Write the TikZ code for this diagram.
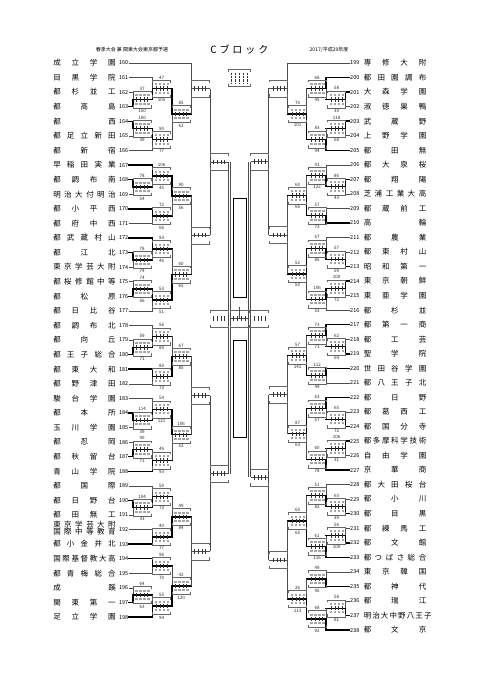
\documentclass[tikz,border=0pt]{standalone}
\usepackage{fontspec}
\setmainfont{Noto Sans CJK JP}
\usetikzlibrary{calc}

\tikzset{
  ln/.style={line width=0.45pt, black!70},
  bold/.style={line width=1.4pt, black, line cap=rect},
  hW/.style={bold}, vW/.style={bold},
  hP/.style={bold}, vP/.style={ln},
  hN/.style={ln},   vN/.style={ln},
  bx/.style={line width=0.4pt, black!60},
  tk/.style={line width=0.4pt, black!80},
  dig/.style={black!35},
  score/.style={font=\fontsize{4.5}{5}\selectfont, inner sep=0pt, black!85},
  num/.style={font=\fontsize{5.5}{6}\selectfont, inner sep=0pt},
  tname/.style={font=\fontsize{7.5}{9}\selectfont, inner sep=0pt},
  hdr/.style={font=\fontsize{5}{6}\selectfont, inner sep=0pt},
}

\newcommand{\spread}[1]{\makebox[62.5pt][s]{#1}}
\newcommand{\twol}{\begin{tabular}{@{}c@{}}\spread{東 京 学 芸 大 附}\\[-2pt]\spread{国 際 中 等 教 育}\end{tabular}}

% top and bottom bracket of a score box, #1 = left middle, #2 = width
\newcommand{\gframe}[2]{%
  \draw[bx] ($(#1)+(0,-6)$) -- ++(0,-2.5) -- ++(#2,0) -- ++(0,2.5);
  \draw[bx] ($(#1)+(0,6)$) -- ++(0,2.5) -- ++(#2,0) -- ++(0,-2.5);
}

% score box: #1 left middle, #2 top score, #3 bottom score, #4 name
\newcommand{\gbox}[4]{%
  \gframe{#1}{18}
  \ifx\relax#2\relax
    \draw[ln] (#1) -- ++(18,0);
  \else
    \foreach \k in {0,...,3}{
      \fill[dig] ($(#1)+(2.3+4*\k,-5.2)$) rectangle ++(2.2,2);
      \fill[dig] ($(#1)+(2.3+4*\k,3.2)$) rectangle ++(2.2,2);
    }
    \draw[bold] (#1) -- ++(18,0);
    \node[score] (#4t) at ($(#1)+(9,-11)$) {#2};
    \node[score] (#4b) at ($(#1)+(9,11.5)$) {#3};
  \fi
  \foreach \k in {1,...,4} \draw[tk] ($(#1)+(3.6*\k,-2.2)$) -- ++(0,4.4);
}

% game: name, column, top, bottom, top kind, bottom kind, top score, bottom score
\newcommand{\gameL}[8]{%
  \coordinate (#1c) at ($(#3)!0.5!(#4)$);
  \coordinate (#1) at (#1c -| #2);
  \coordinate (#1o) at ($(#1)+(18,0)$);
  \draw[h#5] (#3) -- (#3 -| #1);
  \draw[h#6] (#4) -- (#4 -| #1);
  \draw[v#5] (#3 -| #1) -- (#1);
  \draw[v#6] (#4 -| #1) -- (#1);
  \gbox{#1}{#7}{#8}{#1}
}
\newcommand{\gameR}[8]{%
  \coordinate (#1c) at ($(#3)!0.5!(#4)$);
  \coordinate (#1) at (#1c -| #2);
  \coordinate (#1o) at ($(#1)+(-18,0)$);
  \draw[h#5] (#3) -- (#3 -| #1);
  \draw[h#6] (#4) -- (#4 -| #1);
  \draw[v#5] (#3 -| #1) -- (#1);
  \draw[v#6] (#4 -| #1) -- (#1);
  \gbox{#1o}{#7}{#8}{#1}
}

\begin{document}
\begin{tikzpicture}[x=1pt,y=-1pt]
\useasboundingbox (0,0) rectangle (481,680);

% header
\node[hdr] (ttl) at (132,50) {春季大会 兼 関東大会東京都予選};
\node[font=\fontsize{10}{12}\selectfont, inner sep=0pt] (blk) at (239.25,50) {\makebox[58pt][s]{C ブ ロ ッ ク}};
\node[hdr] (yr) at (329,50) {2017/平成29年度};

% columns
\coordinate (cL1) at (133,0);   \coordinate (cR1) at (345.5,0);
\coordinate (cL2) at (152.5,0); \coordinate (cR2) at (326,0);
\coordinate (cL3) at (172,0);   \coordinate (cR3) at (306.5,0);
\coordinate (cL4) at (191,0);   \coordinate (cR4) at (287.5,0);
\coordinate (cL5) at (210,0);   \coordinate (cR5) at (268.5,0);

% teams, left
\foreach \n/\nm [count=\i from 0] in {160/{成 立 学 園},161/{目 黒 学 院},162/{都 杉 並 工},
  163/{都 高 島},164/{都 西},165/{都 足 立 新 田},166/{都 新 宿},167/{早 稲 田 実 業},
  168/{都 調 布 南},169/{明 治 大 付 明 治},170/{都 小 平 西},171/{都 府 中 西},
  172/{都 武 蔵 村 山},173/{都 江 北},174/{東 京 学 芸 大 附},175/{都 桜 修 館 中 等},
  176/{都 松 原},177/{都 日 比 谷},178/{都 調 布 北},179/{都 向 丘},180/{都 王 子 総 合},
  181/{都 東 大 和},182/{都 野 津 田},183/{駿 台 学 園},184/{都 本 所},185/{玉 川 学 園},
  186/{都 忍 岡},187/{都 秋 留 台},188/{青 山 学 院},189/{都 国 際},190/{都 日 野 台},
  191/{都 田 無 工},192/{\twol},193/{都 小 金 井 北},194/{国 際 基 督 教 大 高},
  195/{都 青 梅 総 合},196/{成 蹊},197/{関 東 第 一},198/{足 立 学 園}}{
  \coordinate (L\n) at (129,63+14.58*\i);
  \node[num,anchor=east] (nL\n) at (128.5,63+14.58*\i) {\n};
  \node[tname] (tL\n) at (84.5,63+14.58*\i) {\spread{\nm}};
}

% teams, right
\foreach \n/\nm [count=\i from 0] in {199/{専 修 大 附},200/{都 田 園 調 布},201/{大 森 学 園},
  202/{淑 徳 巣 鴨},203/{武 蔵 野},204/{上 野 学 園},205/{都 田 無},206/{都 大 泉 桜},
  207/{都 翔 陽},208/{芝 浦 工 業 大 高},209/{都 蔵 前 工},210/{高 輪},211/{都 農 業},
  212/{都 東 村 山},213/{昭 和 第 一},214/{東 京 朝 鮮},215/{東 亜 学 園},216/{都 杉 並},
  217/{都 第 一 商},218/{都 工 芸},219/{聖 学 院},220/{世 田 谷 学 園},221/{都 八 王 子 北},
  222/{都 日 野},223/{都 葛 西 工},224/{都 国 分 寺},225/{都 多 摩 科 学 技 術},
  226/{自 由 学 園},227/{京 華 商},228/{都 大 田 桜 台},229/{都 小 川},230/{都 目 黒},
  231/{都 練 馬 工},232/{都 文 館},233/{都 つ ば さ 総 合},234/{東 京 韓 国},235/{都 神 代},
  236/{都 瑞 江},237/{明 治 大 中 野 八 王 子},238/{都 文 京}}{
  \coordinate (R\n) at (349.5,63+14.54*\i);
  \node[num,anchor=west] (nR\n) at (350,63+14.54*\i) {\n};
  \node[tname] (tR\n) at (395,63+14.54*\i) {\spread{\nm}};
}

% left half
\gameL{a1}{cL1}{L162}{L163}{N}{W}{37}{150}
\gameL{a2}{cL2}{L161}{a1o}{N}{W}{47}{105}
\gameL{a3}{cL1}{L164}{L165}{W}{N}{100}{39}
\gameL{a4}{cL2}{a3o}{L166}{W}{N}{90}{77}
\gameL{a5}{cL3}{a2o}{a4o}{W}{P}{85}{62}
\gameL{a6}{cL4}{L160}{a5o}{N}{P}{}{}

\gameL{b1}{cL1}{L168}{L169}{W}{N}{78}{54}
\gameL{b2}{cL2}{L167}{b1o}{W}{P}{106}{45}
\gameL{b3}{cL2}{L170}{L171}{W}{N}{72}{66}
\gameL{b4}{cL3}{b2o}{b3o}{W}{P}{90}{56}
\gameL{b5}{cL1}{L173}{L174}{W}{N}{78}{74}
\gameL{b6}{cL2}{L172}{b5o}{W}{P}{93}{46}
\gameL{b7}{cL1}{L175}{L176}{N}{W}{74}{56}
\gameL{b8}{cL2}{b7o}{L177}{W}{N}{53}{51}
\gameL{b9}{cL3}{b6o}{b8o}{P}{W}{60}{65}
\gameL{b10}{cL4}{b4o}{b9o}{P}{P}{}{}

\gameL{c1}{cL1}{L179}{L180}{N}{W}{59}{71}
\gameL{c2}{cL2}{L178}{c1o}{N}{W}{56}{89}
\gameL{c3}{cL2}{L181}{L182}{W}{N}{80}{73}
\gameL{c4}{cL3}{c2o}{c3o}{P}{W}{67}{85}
\gameL{c5}{cL1}{L184}{L185}{W}{N}{114}{39}
\gameL{c6}{cL2}{L183}{c5o}{N}{W}{54}{121}
\gameL{c7}{cL1}{L186}{L187}{N}{W}{90}{71}
\gameL{c8}{cL2}{c7o}{L188}{P}{W}{46}{93}
\gameL{c9}{cL3}{c6o}{c8o}{W}{P}{106}{52}
\gameL{c10}{cL4}{c4o}{c9o}{P}{P}{}{}

\gameL{d1}{cL1}{L190}{L191}{W}{N}{104}{33}
\gameL{d2}{cL2}{L189}{d1o}{N}{W}{50}{73}
\gameL{d3}{cL2}{L192}{L193}{N}{W}{40}{77}
\gameL{d4}{cL3}{d2o}{d3o}{P}{W}{49}{84}
\gameL{d5}{cL2}{L194}{L195}{W}{N}{96}{70}
\gameL{d6}{cL1}{L196}{L197}{N}{W}{64}{63}
\gameL{d7}{cL2}{d6o}{L198}{P}{W}{55}{94}
\gameL{d8}{cL3}{d5o}{d7o}{P}{W}{42}{120}
\gameL{d9}{cL4}{d4o}{d8o}{P}{P}{}{}

\gameL{e1}{cL5}{a6o}{b10o}{N}{N}{}{}
\gameL{e2}{cL5}{c10o}{d9o}{N}{N}{}{}

% right half
\gameR{p1}{cR1}{R201}{R202}{W}{N}{58}{33}
\gameR{p2}{cR2}{R200}{p1o}{W}{P}{68}{45}
\gameR{p3}{cR1}{R203}{R204}{W}{N}{118}{68}
\gameR{p4}{cR2}{p3o}{R205}{P}{W}{83}{94}
\gameR{p5}{cR3}{p2o}{p4o}{P}{W}{70}{101}
\gameR{p6}{cR4}{R199}{p5o}{N}{P}{}{}

\gameR{q1}{cR1}{R207}{R208}{W}{N}{86}{43}
\gameR{q2}{cR2}{R206}{q1o}{N}{W}{41}{122}
\gameR{q3}{cR2}{R209}{R210}{N}{W}{57}{73}
\gameR{q4}{cR3}{q2o}{q3o}{P}{W}{60}{66}
\gameR{q5}{cR1}{R212}{R213}{N}{W}{57}{59}
\gameR{q6}{cR2}{R211}{q5o}{N}{W}{67}{85}
\gameR{q7}{cR1}{R214}{R215}{W}{N}{100}{72}
\gameR{q8}{cR2}{q7o}{R216}{W}{N}{106}{53}
\gameR{q9}{cR3}{q6o}{q8o}{W}{P}{52}{50}
\gameR{q10}{cR4}{q4o}{q9o}{P}{P}{}{}

\gameR{r1}{cR1}{R218}{R219}{N}{W}{62}{64}
\gameR{r2}{cR2}{R217}{r1o}{W}{P}{73}{71}
\gameR{r3}{cR2}{R220}{R221}{W}{N}{112}{49}
\gameR{r4}{cR3}{r2o}{r3o}{P}{W}{57}{141}
\gameR{r5}{cR1}{R223}{R224}{N}{W}{65}{72}
\gameR{r6}{cR2}{R222}{r5o}{W}{P}{63}{57}
\gameR{r7}{cR1}{R225}{R226}{W}{N}{106}{31}
\gameR{r8}{cR2}{r7o}{R227}{P}{W}{60}{78}
\gameR{r9}{cR3}{r6o}{r8o}{W}{P}{87}{63}
\gameR{r10}{cR4}{r4o}{r9o}{P}{P}{}{}

\gameR{s1}{cR1}{R229}{R230}{N}{W}{63}{39}
\gameR{s2}{cR2}{R228}{s1o}{N}{W}{51}{82}
\gameR{s3}{cR1}{R231}{R232}{N}{W}{56}{100}
\gameR{s4}{cR2}{s3o}{R233}{P}{W}{61}{116}
\gameR{s5}{cR3}{s2o}{s4o}{P}{W}{60}{65}
\gameR{s6}{cR2}{R234}{R235}{N}{W}{49}{95}
\gameR{s7}{cR1}{R236}{R237}{N}{W}{58}{81}
\gameR{s8}{cR2}{s7o}{R238}{P}{W}{68}{92}
\gameR{s9}{cR3}{s6o}{s8o}{P}{W}{26}{113}
\gameR{s10}{cR4}{s5o}{s9o}{P}{P}{}{}

\gameR{t1}{cR5}{p6o}{q10o}{N}{N}{}{}
\gameR{t2}{cR5}{r10o}{s10o}{N}{N}{}{}

% final
\draw[ln] (e1o) -- (e2o);
\draw[ln] ($(e1o)+(1.8,0)$) -- ($(e2o)+(1.8,0)$);
\draw[ln] (t1o) -- (t2o);
\draw[ln] ($(t1o)+(-1.8,0)$) -- ($(t2o)+(-1.8,0)$);
\coordinate (FL) at ($(e1o)!0.5!(e2o)$);
\coordinate (FR) at ($(t1o)!0.5!(t2o)$);
\coordinate (F) at ($(FL)!0.5!(FR)$);
\coordinate (F1) at ($(F)+(-29.25,0)$);
\coordinate (F2) at ($(F)+(-9.45,0)$);
\coordinate (F3) at ($(F)+(11.25,0)$);
\gframe{F1}{18}
\gframe{F2}{18.9}
\gframe{F3}{18}
\draw[ln] (F2) -- ++(18.9,0);
\draw[ln] (F) -- ++(0,-12);
\foreach \k in {1,...,4}{
  \draw[tk] ($(F1)+(3.6*\k,-2.5)$) -- ++(0,5);
  \draw[tk] ($(F3)+(3.6*\k,-2.5)$) -- ++(0,5);
  \draw[tk] ($(F2)+(3.78*\k,-2.2)$) -- ++(0,4.4);
}

% name boxes
\draw[line width=1pt] (233,198) rectangle (246,297);
\draw[line width=1pt] (233,340) rectangle (246,437);

% legend box
\coordinate (lg) at (228.25,78);
\gframe{lg}{22}
\foreach \k in {0,...,4} \draw[tk,densely dotted] ($(lg)+(2.5+4.2*\k,-5)$) -- ++(0,10);
\end{tikzpicture}
\end{document}
